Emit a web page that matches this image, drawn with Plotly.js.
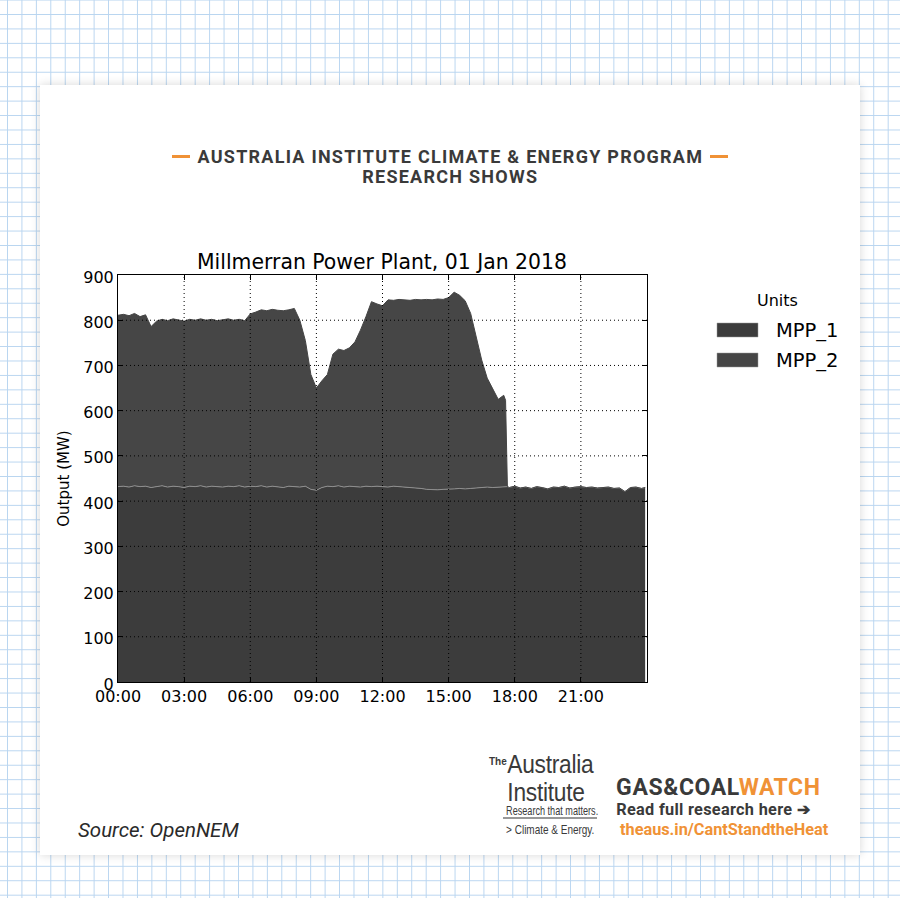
<!DOCTYPE html>
<html><head><meta charset="utf-8">
<script src="https://cdn.plot.ly/plotly-3.0.1.min.js"></script>
<style>
html,body{margin:0;padding:0;}
body{width:900px;height:898px;position:relative;overflow:hidden;background-color:#fff;
background-image:linear-gradient(to bottom,#b9d5f0 1px,transparent 1px),linear-gradient(to right,#b9d5f0 1px,transparent 1px);
background-size:14.45px 14.45px;background-position:7px 14px;}
#card{position:absolute;left:40px;top:85px;width:820px;height:770px;background:#fff;box-shadow:0 0 9px rgba(0,0,0,0.16);}
#chart{position:absolute;left:0;top:0;width:900px;height:898px;}
g.annotation[data-index="0"] text, g.annotation[data-index="1"] text{letter-spacing:1.25px;}
g.annotation[data-index="12"] text{letter-spacing:0.6px;}
g.annotation[data-index="13"] text{letter-spacing:0.3px;}
g.annotation[data-index="8"] text, g.annotation[data-index="9"] text{transform-box:fill-box;transform-origin:left center;transform:scaleX(0.91);letter-spacing:-0.3px;}
g.annotation[data-index="10"] text{transform-box:fill-box;transform-origin:left center;transform:scaleX(0.76);}
g.annotation[data-index="11"] text{transform-box:fill-box;transform-origin:left center;transform:scaleX(0.8);}
</style>
</head><body>
<div id="card"></div>
<div id="chart"></div>
<script>
const day = '2018-01-01';
const nextDay = '2018-01-02';
const times = ['00:00','00:15','00:30','00:45','01:00','01:15','01:30','01:45','02:00','02:15','02:30','02:45',
'03:00','03:15','03:30','03:45','04:00','04:15','04:30','04:45','05:00','05:15','05:30','05:45',
'06:00','06:15','06:30','06:45','07:00','07:15','07:30','07:45','08:00','08:15','08:30','08:45',
'09:00','09:15','09:30','09:45','10:00','10:15','10:30','10:45','11:00','11:15','11:30','11:45',
'12:00','12:15','12:30','12:45','13:00','13:15','13:30','13:45','14:00','14:15','14:30','14:45',
'15:00','15:15','15:30','15:45','16:00','16:15','16:30','16:45','17:00','17:15','17:30','17:35','17:40',
'17:45','18:00','18:15','18:30','18:45','19:00','19:15','19:30','19:45','20:00','20:15','20:30','20:45',
'21:00','21:15','21:30','21:45','22:00','22:15','22:30','22:45','23:00','23:15','23:30','23:45','23:55'];
const mpp1 = [432,433,431,434,432,433,430,432,434,431,433,432,
430,433,432,434,431,433,432,431,433,432,434,431,
433,432,434,431,433,432,430,433,432,431,433,426,
424,430,433,432,434,431,433,432,431,433,432,433,
432,431,433,432,432,431,430,428,426,425,425,426,
426,427,428,427,428,429,430,431,430,431,432,431,432,
430,433,429,431,428,432,430,427,431,430,433,429,431,
432,430,431,429,430,431,428,429,421,430,431,428,430];
const mpp2 = [379,380,379,381,376,379,356,366,368,368,370,368,
368,369,368,369,369,369,367,370,370,368,368,368,
381,386,389,390,391,390,391,390,394,369,322,254,
226,236,247,293,302,302,306,320,347,375,409,403,
400,414,411,414,413,413,416,417,420,420,422,420,
424,435,427,416,387,336,282,241,218,194,202,192,0,
0,0,0,0,0,0,0,0,0,0,0,0,0,
0,0,0,0,0,0,0,0,0,0,0,0,0];
const seriesNames = ['MPP_1','MPP_2'];
const tickTimes = ['00:00','03:00','06:00','09:00','12:00','15:00','18:00','21:00'];
const yTicks = [0,100,200,300,400,500,600,700,800,900];

const xs = times.map(t => day + ' ' + t);
const fillCols = ['#3c3c3c','#464646'];
const lineCols = ['#8e8e8e','#454545'];
const traces = [mpp1, mpp2].map((ys, i) => ({
  type:'scatter', mode:'lines', x:xs, y:ys, name:seriesNames[i], stackgroup:'one',
  fillcolor:fillCols[i], line:{color:lineCols[i], width:1}, hoverinfo:'skip', showlegend:false
}));

const L = 118, R = 647, T = 275, B = 682;
const px = x => (x - L) / (R - L);
const py = y => (B - y) / (B - T);

const shapes = [];
tickTimes.slice(1).forEach(t => shapes.push({type:'line', layer:'above', xref:'x', yref:'paper',
  x0:day+' '+t, x1:day+' '+t, y0:0, y1:1, line:{color:'#000', width:1, dash:'1px,3px'}}));
yTicks.slice(1, -1).forEach(v => shapes.push({type:'line', layer:'above', xref:'paper', yref:'y',
  x0:0, x1:1, y0:v, y1:v, line:{color:'#000', width:1, dash:'1px,3px'}}));
// legend swatches
seriesNames.forEach((n, i) => shapes.push({type:'rect', xref:'paper', yref:'paper',
  x0:px(717), x1:px(758), y0:py(323 + 30*i), y1:py(337 + 30*i), fillcolor:fillCols[i], line:{color:'#9a9a9a', width:0.5}}));
// header orange dashes
[[172,190],[710,728]].forEach(d => shapes.push({type:'line', xref:'paper', yref:'paper',
  x0:px(d[0]), x1:px(d[1]), y0:py(156.5), y1:py(156.5), line:{color:'#f09236', width:3}}));
// logo rule
shapes.push({type:'line', xref:'paper', yref:'paper', x0:px(503), x1:px(597), y0:py(818), y1:py(818), line:{color:'#333', width:1.2}});

const orange = '#f09236', dark = '#3a3a3a';
const logoFont = 'Liberation Sans, sans-serif';
const ann = (x, y, text, size, opts) => Object.assign({xref:'paper', yref:'paper', x:px(x), y:py(y), text:text,
  showarrow:false, xanchor:'center', yanchor:'middle', borderpad:0, font:{size:size, color:dark, family:'Roboto'}}, opts || {});
const annotations = [
  ann(450, 156, '<b>AUSTRALIA INSTITUTE CLIMATE &amp; ENERGY PROGRAM</b>', 18),
  ann(450, 176, '<b>RESEARCH SHOWS</b>', 18),
  ann(382, 262, 'Millmerran Power Plant, 01 Jan 2018', 20.4, {font:{size:20.4, color:'#000', family:'DejaVu Sans'}}),
  ann(777, 300, 'Units', 16, {font:{size:16, color:'#000', family:'DejaVu Sans'}}),
  ann(775, 330, seriesNames[0], 19.5, {xanchor:'left', font:{size:19.5, color:'#000', family:'DejaVu Sans'}}),
  ann(775, 360, seriesNames[1], 19.5, {xanchor:'left', font:{size:19.5, color:'#000', family:'DejaVu Sans'}}),
  ann(77, 830, '<i>Source: OpenNEM</i>', 20.5, {xanchor:'left', font:{size:20.5, color:'#2a2a2a', family:'Roboto'}}),
  ann(488, 761, '<b>The</b>', 10, {xanchor:'left', font:{size:10, color:dark, family:logoFont}}),
  ann(505, 764, 'Australia', 25, {xanchor:'left', font:{size:25, color:dark, family:logoFont}}),
  ann(505, 792, 'Institute', 25, {xanchor:'left', font:{size:25, color:dark, family:logoFont}}),
  ann(505, 811, 'Research that matters.', 12, {xanchor:'left', font:{size:12, color:dark, family:logoFont}}),
  ann(505, 830, '&gt; Climate &amp; Energy.', 12.5, {xanchor:'left', font:{size:12.5, color:dark, family:logoFont}}),
  ann(619, 787, '<b>GAS&amp;COAL<span style="color:'+orange+'">WATCH</span></b>', 23, {xanchor:'left'}),
  ann(619, 809, '<b>Read full research here ➔</b>', 16.3, {xanchor:'left'}),
  ann(619, 829, '<b>theaus.in/CantStandtheHeat</b>', 16.3, {xanchor:'left', font:{size:16.3, color:orange, family:'Roboto'}})
];

const axisCommon = {showline:true, linecolor:'#000', linewidth:1, mirror:'ticks', ticks:'inside', ticklen:5,
  tickcolor:'#000', tickwidth:1, showgrid:false, zeroline:false, layer:'above traces',
  tickfont:{size:16, color:'#000', family:'DejaVu Sans'}};

const layout = {
  width:900, height:898, margin:{l:L, r:900-R, t:T, b:898-B},
  paper_bgcolor:'rgba(0,0,0,0)', plot_bgcolor:'#fff',
  font:{family:'DejaVu Sans', color:'#000'},
  showlegend:false,
  xaxis:Object.assign({}, axisCommon, {type:'date', range:[day+' 00:00', nextDay+' 00:00'],
    tickvals:tickTimes.map(t => day+' '+t), ticktext:tickTimes}),
  yaxis:Object.assign({}, axisCommon, {range:[0,900], tickvals:yTicks, ticktext:yTicks.map(String), ticklabelshift:2,
    title:{text:'Output (MW)', font:{size:15, color:'#000', family:'DejaVu Sans'}, standoff:10}}),
  shapes:shapes, annotations:annotations
};
Plotly.newPlot('chart', traces, layout, {staticPlot:true, displayModeBar:false});
</script>
</body></html>
